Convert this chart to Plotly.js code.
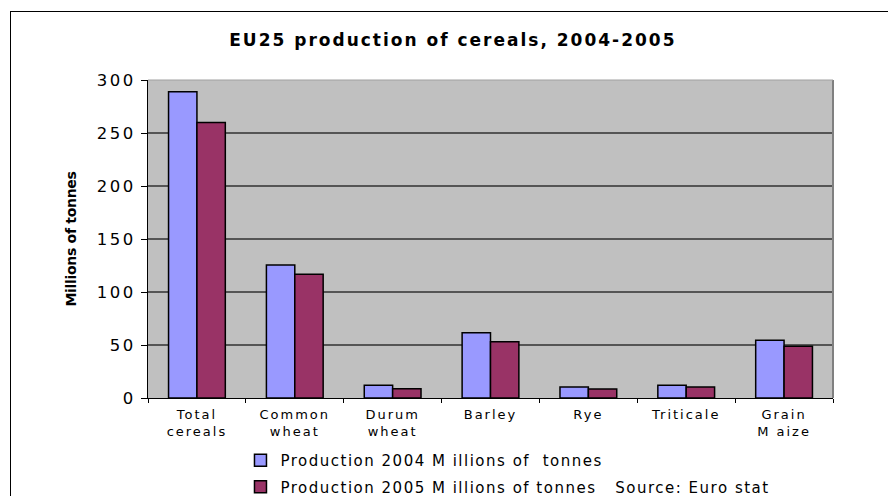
<!DOCTYPE html>
<html>
<head>
<meta charset="utf-8">
<script src="https://cdn.plot.ly/plotly-3.0.1.min.js"></script>
<style>
html,body{margin:0;padding:0;background:#fff;}
#frame{position:absolute;left:10px;top:11px;width:900px;height:500px;border:1px solid #000;box-sizing:border-box;pointer-events:none;z-index:5;}
#chart{position:absolute;left:0;top:0;width:888px;height:496px;}
#chart .gtitle{letter-spacing:2px;}
#chart .xtick text{letter-spacing:2px;}
#chart .ytick text{letter-spacing:2.5px;}
#chart .legendtext{letter-spacing:1.5px;}
#chart .ytitle{letter-spacing:-0.3px;}
#chart .legend .scrollbox{clip-path:none !important;}
</style>
</head>
<body>
<div id="chart"></div>
<div id="frame"></div>
<script>
const categories = ["Total<br>cereals", "Common<br>wheat", "Durum<br>wheat", "Barley", "Rye", "Triticale", "Grain<br>M aize"];
const prod2004 = [289, 125.5, 12, 61.6, 10.4, 12, 54.4];
const prod2005 = [260, 116.7, 8.8, 53, 8.5, 10.4, 48.8];
const seriesNames = ["Production 2004 M illions of  tonnes", "Production 2005 M illions of tonnes   Source: Euro stat"];
const yTicks = [0, 50, 100, 150, 200, 250, 300];

const traces = [
  {type: "bar", x: categories, y: prod2004, name: seriesNames[0], legendgroup: "g1",
   marker: {color: "#9999FF", line: {color: "#000000", width: 1.5}}},
  {type: "bar", x: categories, y: prod2005, name: seriesNames[1], legendgroup: "g2",
   marker: {color: "#993366", line: {color: "#000000", width: 1.5}}}
];

const FONT = "DejaVu Sans, Verdana, sans-serif";

const layout = {
  width: 888, height: 496,
  margin: {l: 148, r: 55, t: 80, b: 98},
  paper_bgcolor: "#ffffff",
  plot_bgcolor: "#C0C0C0",
  font: {family: FONT, color: "#000"},
  title: {text: "<b>EU25 production of cereals, 2004-2005</b>", xref: "container", x: 0.51, xanchor: "center", y: 0.919, yanchor: "middle",
          font: {size: 17, family: FONT, color: "#000"}},
  barmode: "group",
  bargap: 0.42,
  bargroupgap: 0,
  showlegend: true,
  legend: {orientation: "v", xref: "paper", x: 0.135, xanchor: "left", yref: "container", y: 0.105, yanchor: "top",
           font: {size: 15}, tracegroupgap: 4, traceorder: "grouped", itemwidth: 30, bgcolor: "rgba(0,0,0,0)"},
  xaxis: {
    type: "category", automargin: false, tickangle: 0,
    showline: true, linecolor: "#000", linewidth: 1,
    ticks: "outside", ticklen: 4, tickcolor: "#000", tickson: "boundaries",
    ticklabelstandoff: 4,
    tickfont: {size: 13}, showgrid: false, mirror: false
  },
  yaxis: {
    automargin: false,
    range: [0, 300], tickvals: yTicks, ticktext: yTicks.map(String),
    showline: true, linecolor: "#000", linewidth: 1,
    ticks: "outside", ticklen: 6, tickcolor: "#000",
    ticklabelstandoff: 2,
    tickfont: {size: 16.5},
    showgrid: true, gridcolor: "#555555", gridwidth: 1.2,
    zeroline: false,
    title: {text: "<b>Millions of tonnes</b>", font: {size: 14}, standoff: 24}
  },
  shapes: [
    {type: "line", xref: "paper", yref: "paper", x0: 1, x1: 1, y0: 0, y1: 1, line: {color: "#808080", width: 2}},
    {type: "line", xref: "paper", yref: "paper", x0: 0, x1: 1, y0: 1, y1: 1, line: {color: "#A0A0A0", width: 1}}
  ]
};

Plotly.newPlot("chart", traces, layout, {displayModeBar: false, staticPlot: true});
</script>
</body>
</html>
